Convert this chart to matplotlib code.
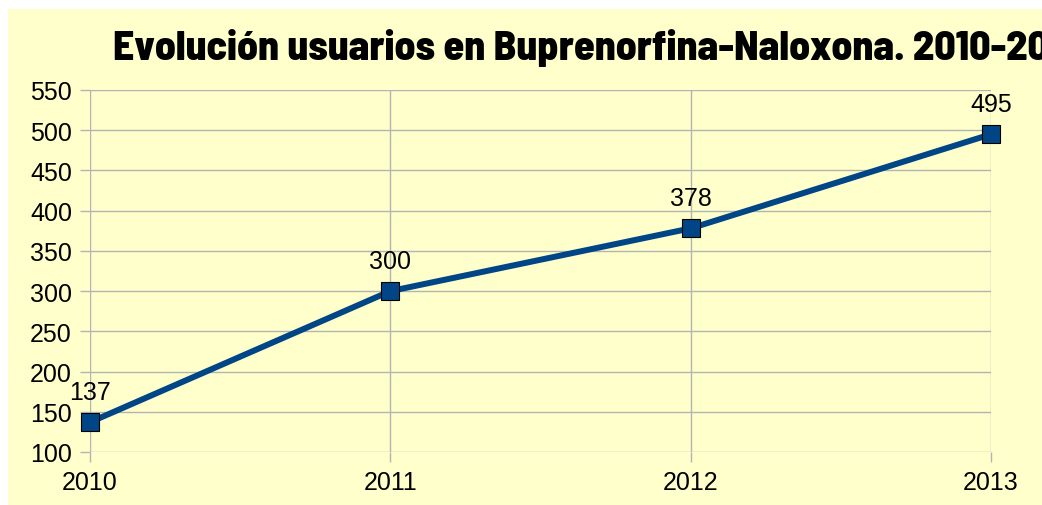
import matplotlib.pyplot as plt
from matplotlib.patches import Rectangle

years = [2010, 2011, 2012, 2013]
usuarios = [137, 300, 378, 495]
yticks = [100, 150, 200, 250, 300, 350, 400, 450, 500, 550]
title = 'Evolución usuarios en Buprenorfina-Naloxona. 2010-2013'

bg = '#ffffcc'
blue = '#004586'
grid_c = '#b3b3b3'

fig = plt.figure(figsize=(10.42, 5.06), dpi=100, facecolor='white')
fig.patches.append(Rectangle((8 / 1042, 0), 1, 1 - 10 / 506, transform=fig.transFigure,
                             facecolor=bg, edgecolor='none', zorder=-10))

ax = fig.add_axes([90 / 1042, 1 - 453 / 506, (991 - 90) / 1042, (453 - 91) / 506])
ax.set_facecolor(bg)

ax.plot(years, usuarios, color=blue, lw=4.3, marker='s', markersize=13.5,
        markerfacecolor=blue, markeredgecolor='black', markeredgewidth=0.8,
        clip_on=False, zorder=5)
for x, y in zip(years, usuarios):
    ax.annotate(str(y), (x, y), xytext=(0, 22), textcoords='offset points',
                ha='center', va='center', fontsize=18, family='Liberation Sans')

ax.set_xlim(2010, 2013)
ax.set_ylim(100, 550)
ax.set_xticks(years)
ax.set_yticks(yticks)
ax.grid(True, color=grid_c, lw=1)
for s in ax.spines.values():
    s.set_visible(False)
ax.tick_params(axis='both', color=grid_c, length=7, width=1, labelsize=18, pad=6)
for lab in ax.get_xticklabels() + ax.get_yticklabels():
    lab.set_family('Liberation Sans')

# title runs off the right edge, as in the original
fig.text(113 / 1042, 1 - 60 / 506, title, fontsize=30, fontweight=800,
         family=['Barlow Semi Condensed', 'Barlow Condensed', 'DejaVu Sans'],
         ha='left', va='baseline')

fig.savefig('out.png', dpi=100, facecolor='white')
